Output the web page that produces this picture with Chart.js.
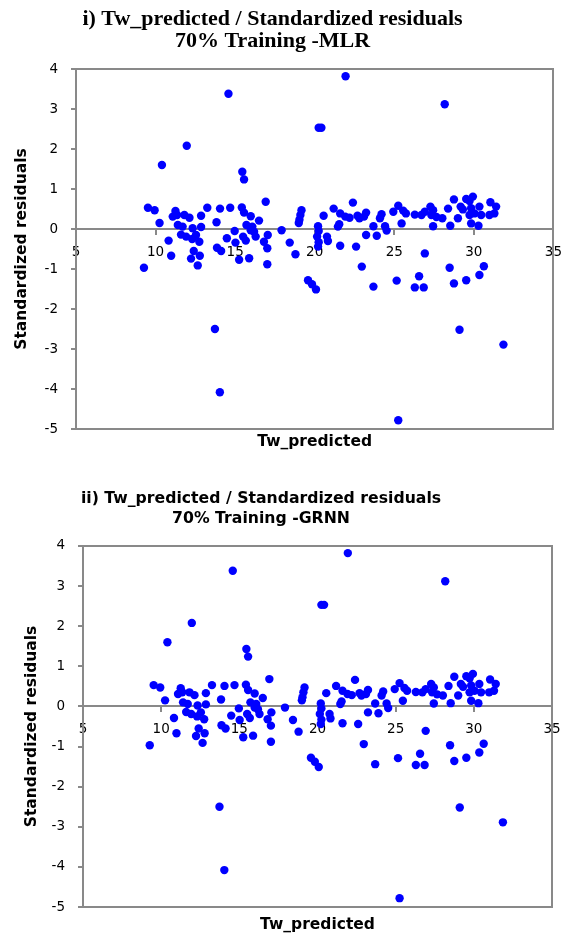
<!DOCTYPE html>
<html>
<head>
<meta charset="utf-8">
<script src="https://cdn.jsdelivr.net/npm/chart.js@4.4.0/dist/chart.umd.min.js"></script>
<style>
  body { margin: 0; background: #fff; }
  canvas { display: block; }
</style>
</head>
<body>
<canvas id="mlr" width="572" height="468"></canvas>
<canvas id="grnn" width="572" height="469"></canvas>
<script>
// both panels plot the same residual points
const twPredicted = [
  9.27, 9.52, 9.94, 10.25, 10.4, 10.82, 10.98, 11.08, 11.25, 11.35,
  11.4, 11.6, 11.7, 11.81, 11.92, 11.96, 12.13, 12.3, 12.23, 12.33,
  12.4, 12.54, 12.65, 12.75, 12.78, 12.86, 12.86, 13.25, 13.73, 13.83,
  13.86, 14.04, 14.05, 14.12, 14.48, 14.58, 14.69, 14.97, 15.02, 15.25,
  15.42, 15.45, 15.56, 15.56, 15.5, 15.67, 15.71, 15.88, 15.98, 15.98,
  16.08, 16.19, 16.29, 16.5, 16.81, 16.92, 17.05, 17.02, 17.02, 17.92,
  18.43, 18.79, 19.0, 19.04, 19.1, 19.17, 19.58, 19.83, 20.08, 20.21,
  20.25, 20.15, 20.25, 20.21, 20.25, 20.42, 20.56, 20.77, 20.83, 21.19,
  21.46, 21.54, 21.6, 21.6, 21.92, 21.94, 22.19, 22.4, 22.6, 22.69,
  22.81, 22.96, 23.1, 23.23, 23.23, 23.69, 23.69, 23.9, 24.1, 24.2,
  24.42, 24.52, 24.94, 25.15, 25.25, 25.25, 25.46, 25.56, 25.73, 26.29,
  26.29, 26.56, 26.71, 26.85, 26.92, 26.92, 27.27, 27.44, 27.33, 27.44,
  27.65, 28.02, 28.17, 28.38, 28.48, 28.52, 28.75, 28.75, 29.0, 29.1,
  29.17, 29.31, 29.52, 29.52, 29.73, 29.73, 29.83, 29.83, 29.94, 30.04,
  30.29, 30.35, 30.35, 30.46, 30.63, 30.98, 31.04, 31.29, 31.4, 31.86
]
const stdResiduals = [
  -0.97, 0.53, 0.47, 0.15, 1.6, -0.29, -0.67, 0.31, 0.45, 0.35,
  0.1, -0.14, 0.06, 0.35, -0.19, 2.08, 0.28, -0.25, -0.74, 0.02,
  -0.55, -0.15, -0.91, -0.32, -0.67, 0.05, 0.33, 0.53, -2.5, 0.17,
  -0.47, -4.08, 0.51, -0.55, -0.23, 3.38, 0.53, -0.05, -0.34, -0.77,
  0.54, 1.43, 1.24, 0.41, -0.19, -0.29, 0.1, -0.73, 0.32, -0.03,
  0.06, -0.07, -0.19, 0.21, -0.32, 0.68, -0.15, -0.48, -0.88, -0.03,
  -0.34, -0.63, 0.15, 0.23, 0.35, 0.47, -1.28, -1.38, -1.51, 0.07,
  -0.05, -0.19, -0.33, -0.44, 2.53, 2.53, 0.33, -0.19, -0.3, 0.51,
  0.06, 0.12, -0.42, 0.39, 0.31, 3.82, 0.28, 0.66, -0.44, 0.33,
  0.27, -0.94, 0.31, 0.41, -0.15, 0.07, -1.44, -0.17, 0.27, 0.37,
  0.07, -0.04, 0.43, -1.29, 0.58, -4.78, 0.14, 0.46, 0.39, 0.36,
  -1.46, -1.18, 0.35, -1.46, 0.43, -0.61, 0.56, 0.47, 0.35, 0.07,
  0.3, 0.27, 3.12, 0.51, -0.97, 0.08, 0.74, -1.36, 0.27, -2.52,
  0.56, 0.49, 0.75, -1.28, 0.7, 0.35, 0.52, 0.14, 0.81, 0.39,
  0.08, 0.56, -1.15, 0.35, -0.93, 0.35, 0.67, 0.39, 0.56, -2.89
]

const mlrTitle = ['i) Tw_predicted / Standardized residuals', '70% Training -MLR']
const grnnTitle = ['ii) Tw_predicted / Standardized residuals', '70% Training -GRNN']
const xTitle = 'Tw_predicted'
const yTitle = 'Standardized residuals'
const xRange = { min: 5, max: 35, step: 5 }
const yRange = { min: -5, max: 4, step: 1 }

const axisGray = '#898989'
const sans = '"DejaVu Sans", Lato, sans-serif'
const points = twPredicted.map((x, i) => ({ x, y: stdResiduals[i] }))

// shiftLeft: negative left padding so the full-width title centres where the original did
function makeChart(id, o) {
  const edge = { ticks: { display: false }, grid: { display: false }, border: { color: axisGray, width: 2 } }
  const tickFont = { family: sans, size: 13.5 }
  const axisFont = { family: sans, size: 15.5, weight: 'bold' }
  return new Chart(document.getElementById(id), {
    type: 'scatter',
    data: {
      datasets: [{
        data: points,
        backgroundColor: '#0000ff',
        borderWidth: 0,
        pointRadius: 4.2,
        pointHoverRadius: 4.2
      }]
    },
    options: {
      responsive: false,
      animation: false,
      events: [],
      layout: { padding: { left: -o.shiftLeft, right: o.right, top: 0, bottom: 0 } },
      plugins: {
        legend: { display: false },
        tooltip: { enabled: false },
        title: {
          display: true,
          text: o.title,
          color: '#000',
          font: o.titleFont,
          padding: o.titlePad
        }
      },
      scales: {
        x: {
          type: 'linear',
          min: xRange.min,
          max: xRange.max,
          position: { y: 0 },
          ticks: { stepSize: xRange.step, padding: 10, color: '#000', font: tickFont },
          grid: { display: true, drawOnChartArea: false, drawTicks: true, tickLength: 5, color: axisGray, lineWidth: 2 },
          border: { color: axisGray, width: 2 }
        },
        xBottom: {
          type: 'linear', min: xRange.min, max: xRange.max, position: 'bottom', ...edge,
          title: { display: true, text: xTitle, color: '#000', font: axisFont, padding: { top: 0, bottom: o.xTitlePad } },
          afterFit: s => { s.height = o.bottom }
        },
        xTop: {
          type: 'linear', min: xRange.min, max: xRange.max, position: 'top', ...edge,
          afterFit: s => { s.height = 0 }
        },
        y: {
          type: 'linear',
          min: yRange.min,
          max: yRange.max,
          position: 'left',
          ticks: { stepSize: yRange.step, padding: 13, color: '#000', font: tickFont },
          grid: { display: true, drawOnChartArea: false, drawTicks: true, tickLength: 5, color: axisGray, lineWidth: 2 },
          border: { color: axisGray, width: 2 },
          title: { display: true, text: yTitle, color: '#000', font: axisFont, padding: { top: o.yTitlePad + o.shiftLeft, bottom: 0 } },
          afterFit: s => { s.width = o.left + o.shiftLeft }
        },
        yRight: {
          type: 'linear', min: yRange.min, max: yRange.max, position: 'right', ...edge,
          afterFit: s => { s.width = 0 }
        }
      }
    }
  })
}

makeChart('mlr', {
  title: mlrTitle,
  titleFont: { family: '"Liberation Serif", "Times New Roman", serif', size: 22, weight: 'bold', lineHeight: 0.98 },
  titlePad: { top: 8.7, bottom: 17.2 },
  shiftLeft: 11,
  left: 76, right: 16, bottom: 39,
  xTitlePad: 16.7, yTitlePad: 12.7
})

makeChart('grnn', {
  title: grnnTitle,
  titleFont: { family: sans, size: 15.7, weight: 'bold', lineHeight: 1.27 },
  titlePad: { top: 21, bottom: 17 },
  shiftLeft: 30,
  left: 83, right: 20, bottom: 30,
  xTitlePad: 2.7, yTitlePad: 22.2
})
</script>
</body>
</html>
